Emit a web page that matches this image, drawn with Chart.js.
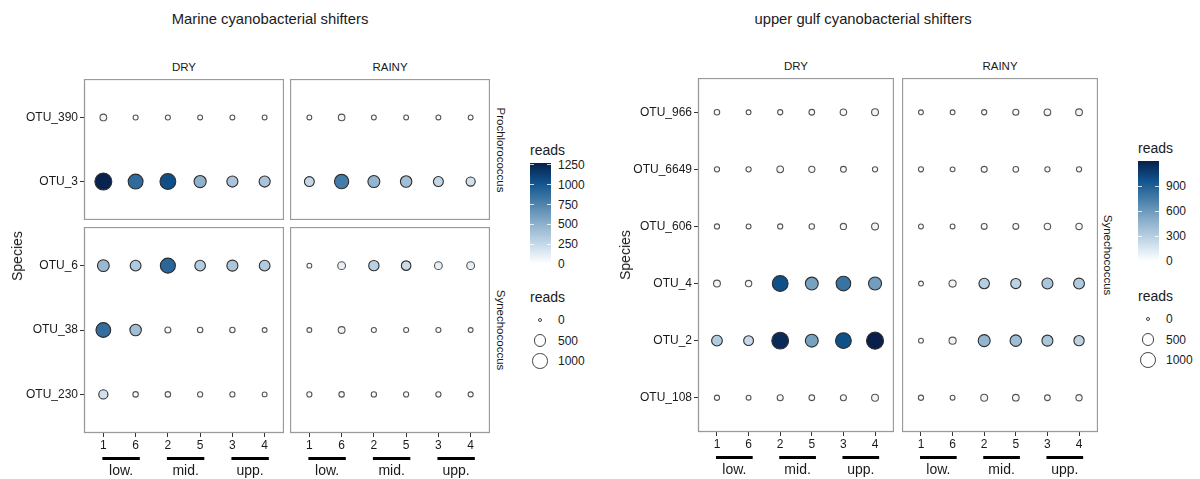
<!DOCTYPE html>
<html>
<head>
<meta charset="utf-8">
<script src="https://cdn.jsdelivr.net/npm/chart.js@4.4.1/dist/chart.umd.min.js"></script>
<style>
body { margin: 0; background: #fff; }
#wrap { position: relative; width: 1200px; height: 479px; overflow: hidden; font-family: "Liberation Sans", Arial, sans-serif; }
#wrap canvas, .t, .bar, .dot { position: absolute; }
.t { color: #1a1a1a; white-space: nowrap; line-height: 1; }
</style>
</head>
<body>
<div id="wrap"></div>
<script>
// sampling sites along the gulf, in plotting order
var sites = ['1', '6', '2', '5', '3', '4'];
var depthGroups = ['low.', 'mid.', 'upp.'];

// species, top to bottom
var marineProchloroSpecies = ['OTU_390', 'OTU_3'];
var marineSynechoSpecies = ['OTU_6', 'OTU_38', 'OTU_230'];
var gulfSynechoSpecies = ['OTU_966', 'OTU_6649', 'OTU_606', 'OTU_4', 'OTU_2', 'OTU_108'];

// reads: one row per species, one column per site
var marineProchloroDry = [
  [55, 8, 8, 6, 6, 5],
  [1260, 890, 1050, 500, 380, 380]
];
var marineProchloroRainy = [
  [5, 50, 5, 5, 5, 5],
  [260, 800, 480, 420, 270, 200]
];
var marineSynechoDry = [
  [450, 350, 920, 330, 370, 340],
  [880, 420, 30, 15, 15, 5],
  [200, 15, 15, 10, 10, 5]
];
var marineSynechoRainy = [
  [5, 110, 300, 230, 110, 110],
  [5, 60, 8, 8, 8, 5],
  [10, 15, 12, 10, 10, 8]
];
var gulfSynechoDry = [
  [15, 5, 10, 20, 45, 60],
  [10, 10, 50, 35, 25, 10],
  [10, 5, 10, 15, 35, 60],
  [60, 40, 980, 560, 800, 580],
  [320, 240, 1150, 560, 980, 1200],
  [10, 5, 30, 20, 30, 60]
];
var gulfSynechoRainy = [
  [5, 5, 10, 30, 50, 55],
  [8, 5, 30, 20, 10, 10],
  [5, 5, 25, 25, 45, 40],
  [5, 70, 300, 270, 350, 330],
  [5, 70, 450, 400, 350, 280],
  [10, 5, 60, 50, 20, 35]
];

var marineMax = 1275;
var gulfMax = 1200;
var marineColorBreaks = [0, 250, 500, 750, 1000, 1250];
var gulfColorBreaks = [0, 300, 600, 900];
var sizeBreaks = [0, 500, 1000];

var blues = [[0, '#ffffff'], [0.2, '#c4d8e9'], [0.4, '#8cb0cb'], [0.6, '#4d82ab'], [0.8, '#11548f'], [1, '#08204a']];
var FONT = '"Liberation Sans", Arial, sans-serif';
var wrap = document.getElementById('wrap');

function hex(c) {
  return [parseInt(c.slice(1, 3), 16), parseInt(c.slice(3, 5), 16), parseInt(c.slice(5, 7), 16)];
}
function fillFor(v, max) {
  var t = Math.max(0, Math.min(1, v / max));
  for (var i = 1; i < blues.length; i++) {
    if (t <= blues[i][0]) {
      var a = hex(blues[i - 1][1]), b = hex(blues[i][1]);
      var f = (t - blues[i - 1][0]) / (blues[i][0] - blues[i - 1][0]);
      return 'rgb(' + a.map(function (x, k) { return Math.round(x + (b[k] - x) * f); }).join(',') + ')';
    }
  }
  return blues[blues.length - 1][1];
}
function radius(v, max) {
  return 2 + 6.5 * Math.sqrt(Math.max(0, v) / max);
}

function text(str, x, y, size, how) {
  var d = document.createElement('div');
  d.className = 't';
  d.textContent = str;
  d.style.left = x + 'px';
  d.style.top = y + 'px';
  d.style.fontSize = size + 'px';
  d.style.transform = how || 'translate(-50%,-50%)';
  wrap.appendChild(d);
  return d;
}

// keep the panel filling its canvas: no label padding from the axes
function noPad(s) {
  s.paddingTop = 0;
  s.paddingBottom = 0;
  s.paddingLeft = 0;
  s.paddingRight = 0;
}

// panel border, drawn under the bubbles
var frame = {
  id: 'frame',
  beforeDatasetsDraw: function (chart) {
    var a = chart.chartArea, ctx = chart.ctx;
    ctx.save();
    ctx.strokeStyle = '#9a9a9a';
    ctx.lineWidth = 1.3;
    ctx.strokeRect(a.left + 0.5, a.top + 0.5, a.right - a.left - 1, a.bottom - a.top - 1);
    ctx.restore();
  }
};

// low. / mid. / upp. brackets under the site ticks
var depthBars = {
  id: 'depthBars',
  afterDraw: function (chart) {
    if (!chart.options.scales.x.display) return;
    var xs = chart.scales.x, ctx = chart.ctx, b = chart.chartArea.bottom;
    ctx.save();
    depthGroups.forEach(function (g, k) {
      var x0 = xs.getPixelForValue(2 * k + 1 - 0.03);
      var x1 = xs.getPixelForValue(2 * k + 2 + 0.13);
      ctx.strokeStyle = '#000';
      ctx.lineWidth = 3;
      ctx.beginPath();
      ctx.moveTo(x0, b + 25.5);
      ctx.lineTo(x1, b + 25.5);
      ctx.stroke();
      ctx.fillStyle = '#1a1a1a';
      ctx.font = '14px ' + FONT;
      ctx.textAlign = 'center';
      ctx.textBaseline = 'middle';
      ctx.fillText(g, (x0 + x1) / 2, b + 38);
    });
    ctx.restore();
  }
};

function facet(o) {
  var c = document.createElement('canvas');
  c.width = o.w;
  c.height = o.h;
  c.style.left = o.x + 'px';
  c.style.top = o.y + 'px';
  wrap.appendChild(c);
  var n = o.species.length;
  var pts = [];
  o.values.forEach(function (row, i) {
    row.forEach(function (v, j) {
      pts.push({ x: j + 1, y: n - 1 - i, r: radius(v, o.max), v: v });
    });
  });
  new Chart(c, {
    type: 'bubble',
    data: {
      datasets: [{
        data: pts,
        backgroundColor: function (ctx) { return fillFor(ctx.raw.v, o.max); },
        borderColor: function (ctx) { return ctx.raw.v > 150 ? '#2e2e2e' : '#555555'; },
        borderWidth: 1.1
      }]
    },
    options: {
      responsive: false,
      animation: false,
      events: [],
      layout: { padding: 0, autoPadding: false },
      plugins: { legend: { display: false }, tooltip: { enabled: false } },
      scales: {
        x: {
          type: 'linear', min: 0.4, max: 6.6, display: !!o.axisH,
          afterBuildTicks: function (s) { s.ticks = sites.map(function (_, i) { return { value: i + 1 }; }); },
          afterFit: function (s) { s.height = o.axisH || 0; noPad(s); },
          ticks: { callback: function (v) { return sites[v - 1]; }, color: '#1a1a1a', font: { size: 12, family: FONT }, padding: 1, maxRotation: 0, autoSkip: false },
          grid: { drawOnChartArea: false, tickLength: 4, color: '#333' },
          border: { display: false }
        },
        y: {
          type: 'linear', min: -0.6, max: n - 0.4, display: !!o.axisW,
          afterBuildTicks: function (s) { s.ticks = o.species.map(function (_, i) { return { value: i }; }); },
          afterFit: function (s) { s.width = o.axisW || 0; noPad(s); },
          ticks: { callback: function (v) { return o.species[n - 1 - v]; }, color: '#1a1a1a', font: { size: 12, family: FONT }, padding: 2, autoSkip: false },
          grid: { drawOnChartArea: false, tickLength: 4, color: '#333' },
          border: { display: false }
        }
      }
    },
    plugins: [frame, depthBars]
  });
}

function colorLegend(x, top, h, max, breaks) {
  text('reads', x, top - 13, 14, 'translate(0,-50%)');
  var bar = document.createElement('div');
  bar.className = 'bar';
  bar.style.left = x + 'px';
  bar.style.top = top + 'px';
  bar.style.width = '21px';
  bar.style.height = h + 'px';
  bar.style.background = 'linear-gradient(to bottom,' + blues.slice().reverse().map(function (s) { return s[1] + ' ' + Math.round((1 - s[0]) * 100) + '%'; }).join(',') + ')';
  wrap.appendChild(bar);
  breaks.forEach(function (b) {
    var y = top + h - (b / max) * h;
    [0, 17].forEach(function (dx) {
      var m = document.createElement('div');
      m.className = 'bar';
      m.style.left = (x + dx) + 'px';
      m.style.top = (y - 0.5) + 'px';
      m.style.width = '4px';
      m.style.height = '1px';
      m.style.background = 'rgba(255,255,255,0.8)';
      wrap.appendChild(m);
    });
    text(String(b), x + 28, y, 12, 'translate(0,-50%)');
  });
}

function sizeLegend(x, top, max) {
  text('reads', x, top, 14, 'translate(0,-50%)');
  sizeBreaks.forEach(function (b, i) {
    var r = radius(b, max);
    var cy = top + 23 + i * 20.5;
    var d = document.createElement('div');
    d.className = 'dot';
    d.style.left = (x + 10 - r) + 'px';
    d.style.top = (cy - r) + 'px';
    d.style.width = (2 * r - 2) + 'px';
    d.style.height = (2 * r - 2) + 'px';
    d.style.border = '1px solid #444';
    d.style.borderRadius = '50%';
    wrap.appendChild(d);
    text(String(b), x + 28, cy, 12, 'translate(0,-50%)');
  });
}

// ---- Marine panel ----
text('Marine cyanobacterial shifters', 270, 19, 14.8);
text('DRY', 184, 68, 11.5);
text('RAINY', 390, 68, 11.5);
facet({ x: 0, y: 79, w: 284, h: 141, axisW: 84, species: marineProchloroSpecies, values: marineProchloroDry, max: marineMax });
facet({ x: 290, y: 79, w: 200, h: 141, species: marineProchloroSpecies, values: marineProchloroRainy, max: marineMax });
facet({ x: 0, y: 227, w: 284, h: 252, axisW: 84, axisH: 46, species: marineSynechoSpecies, values: marineSynechoDry, max: marineMax });
facet({ x: 290, y: 227, w: 200, h: 252, axisH: 46, species: marineSynechoSpecies, values: marineSynechoRainy, max: marineMax });
text('Species', 17, 256, 14, 'translate(-50%,-50%) rotate(-90deg)');
text('Prochlorococcus', 500, 150, 11.5, 'translate(-50%,-50%) rotate(90deg)');
text('Synechococcus', 500, 330, 11.5, 'translate(-50%,-50%) rotate(90deg)');
colorLegend(530, 163, 101, marineMax, marineColorBreaks);
sizeLegend(530, 297, marineMax);

// ---- Upper gulf panel ----
text('upper gulf cyanobacterial shifters', 863, 19, 14.8);
text('DRY', 796, 67, 11.5);
text('RAINY', 1000, 67, 11.5);
facet({ x: 620, y: 78, w: 274, h: 401, axisW: 78, axisH: 47, species: gulfSynechoSpecies, values: gulfSynechoDry, max: gulfMax });
facet({ x: 902, y: 78, w: 196, h: 401, axisH: 47, species: gulfSynechoSpecies, values: gulfSynechoRainy, max: gulfMax });
text('Species', 625, 255, 14, 'translate(-50%,-50%) rotate(-90deg)');
text('Synechococcus', 1107, 255, 11.5, 'translate(-50%,-50%) rotate(90deg)');
colorLegend(1138, 161, 100, gulfMax, gulfColorBreaks);
sizeLegend(1138, 296, gulfMax);
</script>
</body>
</html>
